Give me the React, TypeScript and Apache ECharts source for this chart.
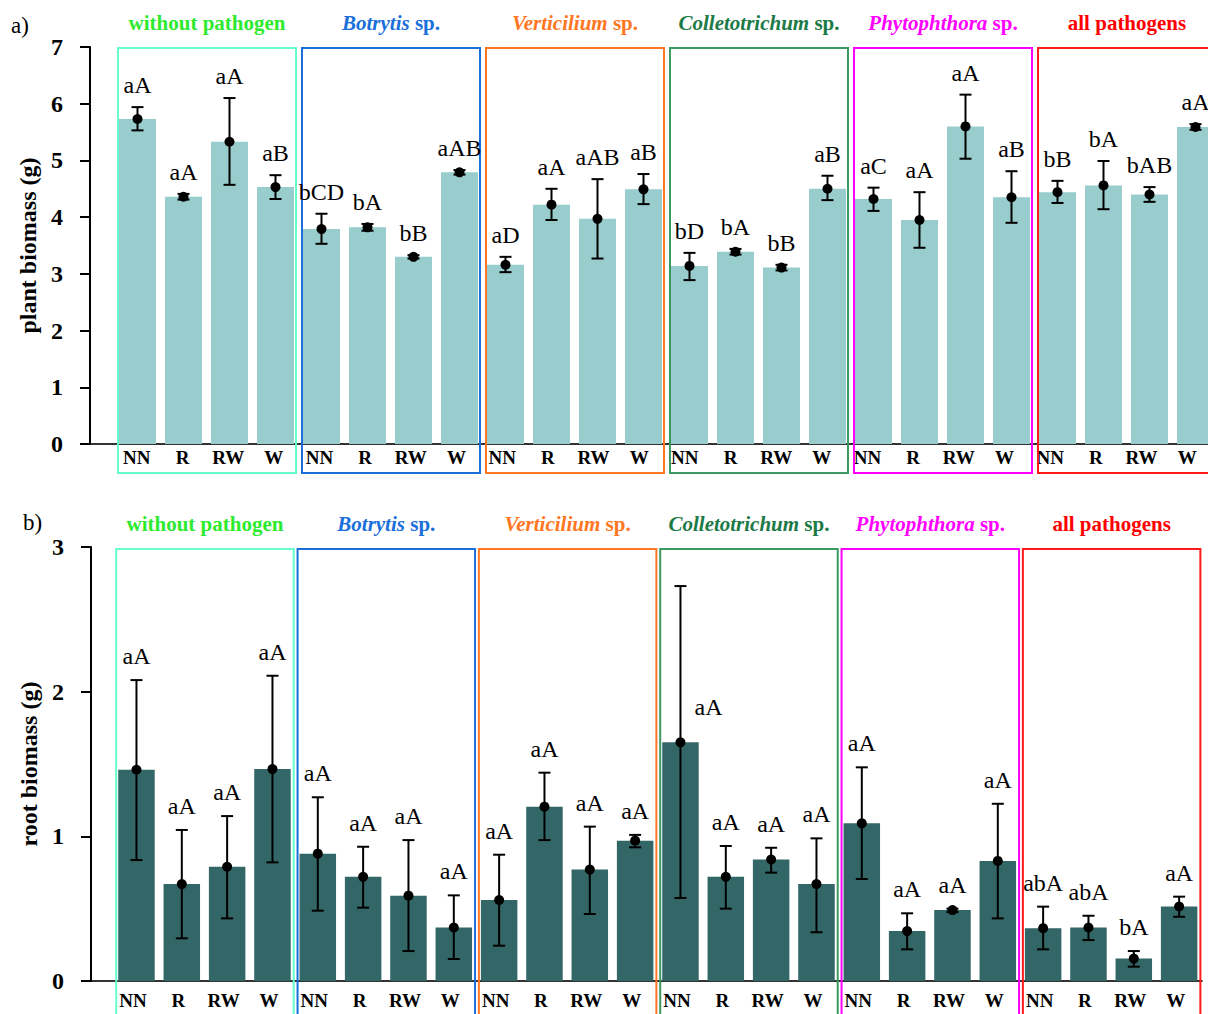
import React, { useEffect, useRef } from "react";
import * as echarts from "echarts";

// ---------- data ----------
const treatments = ["NN", "R", "RW", "W"];
const groupItalic = ["", "Botrytis", "Verticilium", "Colletotrichum", "Phytophthora", ""];
const groupRest = ["without pathogen", " sp.", " sp.", " sp.", " sp.", "all pathogens"];
const groupTitleColors = ["#2EEA2E", "#1A6FDB", "#FF7722", "#1B7A45", "#FF00FF", "#FF0000"];
const groupBoxColors = ["#66FFCC", "#1A6FDB", "#FF7722", "#3A9A62", "#FF00FF", "#FF1A1A"];

const plantMean = [5.73, 4.36, 5.33, 4.53, 3.79, 3.82, 3.3, 4.79, 3.16, 4.22, 3.97, 4.49, 3.14, 3.39, 3.11, 4.5, 4.32, 3.95, 5.6, 4.35, 4.44, 4.56, 4.4, 5.59];
const plantLow = [5.53, 4.31, 4.57, 4.32, 3.53, 3.76, 3.27, 4.75, 3.03, 3.95, 3.27, 4.23, 2.89, 3.34, 3.06, 4.3, 4.11, 3.46, 5.03, 3.9, 4.25, 4.14, 4.27, 5.54];
const plantHigh = [5.94, 4.41, 6.1, 4.74, 4.06, 3.88, 3.33, 4.83, 3.3, 4.5, 4.67, 4.76, 3.37, 3.44, 3.16, 4.73, 4.52, 4.44, 6.16, 4.81, 4.64, 4.99, 4.53, 5.64];
const plantLetters = ["aA", "aA", "aA", "aB", "bCD", "bA", "bB", "aAB", "aD", "aA", "aAB", "aB", "bD", "bA", "bB", "aB", "aC", "aA", "aA", "aB", "bB", "bA", "bAB", "aA"];

const rootMean = [1.46, 0.67, 0.79, 1.465, 0.88, 0.72, 0.59, 0.37, 0.56, 1.205, 0.77, 0.97, 1.65, 0.72, 0.84, 0.67, 1.09, 0.345, 0.49, 0.83, 0.365, 0.37, 0.155, 0.515];
const rootLow = [0.836, 0.295, 0.433, 0.82, 0.486, 0.507, 0.207, 0.152, 0.244, 0.974, 0.463, 0.924, 0.574, 0.5, 0.749, 0.337, 0.705, 0.219, 0.476, 0.433, 0.219, 0.283, 0.099, 0.444];
const rootHigh = [2.08, 1.044, 1.14, 2.11, 1.27, 0.928, 0.974, 0.592, 0.873, 1.44, 1.067, 1.01, 2.73, 0.933, 0.921, 0.986, 1.477, 0.468, 0.5, 1.225, 0.514, 0.451, 0.207, 0.583];
const rootLetters = ["aA", "aA", "aA", "aA", "aA", "aA", "aA", "aA", "aA", "aA", "aA", "aA", "aA", "aA", "aA", "aA", "aA", "aA", "aA", "aA", "abA", "abA", "bA", "aA"];

const plantTicks = [0, 7, 1];
const rootTicks = [0, 3, 1];

// ---------- helpers ----------
const FONT = "'Liberation Serif', 'Times New Roman', Times, serif";
const categories = groupRest.flatMap(() => treatments);

function errorSeries(xi: number, yi: number, mean: number[], low: number[], high: number[], letters: string[], gap: number, overrides: Record<number, { dx: number; at: number }>) {
  return {
    type: "custom",
    xAxisIndex: xi,
    yAxisIndex: yi,
    clip: false,
    z: 5,
    encode: { x: 0, y: 1 },
    data: mean.map((m, i) => [i, m, low[i], high[i]]),
    renderItem: (params: any, api: any) => {
      const i = api.value(0);
      const pM = api.coord([i, api.value(1)]);
      const pL = api.coord([i, api.value(2)]);
      const pH = api.coord([i, api.value(3)]);
      const x = pM[0];
      const cw = 6;
      const ls = { stroke: "#000", lineWidth: 2 };
      const ov = overrides[i];
      let lx = x;
      let ly = pH[1] - gap;
      if (ov) {
        lx = x + ov.dx;
        ly = api.coord([i, ov.at])[1] + 11;
      }
      return {
        type: "group",
        children: [
          { type: "line", shape: { x1: x, y1: pH[1], x2: x, y2: pL[1] }, style: ls },
          { type: "line", shape: { x1: x - cw, y1: pH[1], x2: x + cw, y2: pH[1] }, style: ls },
          { type: "line", shape: { x1: x - cw, y1: pL[1], x2: x + cw, y2: pL[1] }, style: ls },
          { type: "circle", shape: { cx: x, cy: pM[1], r: 5 }, style: { fill: "#000" } },
          {
            type: "text",
            x: lx,
            y: ly,
            style: {
              text: letters[i],
              fontFamily: FONT,
              fontSize: 24,
              fill: "#000",
              align: "center",
              verticalAlign: "bottom",
            },
          },
        ],
      };
    },
  };
}

function boxSeries(xi: number, yi: number, yMax: number, barW: number, padL: number, padR: number, topPad: number, bottomPad: number) {
  return {
    type: "custom",
    xAxisIndex: xi,
    yAxisIndex: yi,
    clip: false,
    z: 4,
    encode: { x: 0 },
    data: groupRest.map((_, g) => [g * 4, g * 4 + 3, g]),
    renderItem: (params: any, api: any) => {
      const a = api.coord([api.value(0), 0]);
      const b = api.coord([api.value(1), 0]);
      const g = api.value(2);
      const x1 = a[0] - barW / 2 - padL;
      const x2 = b[0] + barW / 2 + padR;
      const top = api.coord([api.value(0), yMax])[1] + topPad;
      const bottom = a[1] + bottomPad;
      const text = groupItalic[g] ? `{i|${groupItalic[g]}}{r|${groupRest[g]}}` : `{r|${groupRest[g]}}`;
      const col = groupTitleColors[g];
      return {
        type: "group",
        children: [
          {
            type: "rect",
            shape: { x: x1, y: top, width: x2 - x1, height: bottom - top },
            style: { fill: "none", stroke: groupBoxColors[g], lineWidth: 2 },
          },
          {
            type: "text",
            x: (x1 + x2) / 2,
            y: top - 25,
            style: {
              text,
              align: "center",
              verticalAlign: "middle",
              rich: {
                i: { fontFamily: FONT, fontSize: 21, fontWeight: "bold", fontStyle: "italic", fill: col },
                r: { fontFamily: FONT, fontSize: 21, fontWeight: "bold", fill: col },
              },
            },
          },
        ],
      };
    },
  };
}

const topGrid = { left: 114.5, top: 47, width: 1104, height: 397 };
const topLabelGrid = { left: 114, top: 47, width: 1096, height: 397 };
const botGrid = { left: 113.8, top: 547, width: 1088, height: 434 };
const botLabelGrid = { left: 110.3, top: 547, width: 1088, height: 434 };

function valueAxis(grid: number, ticks: number[], name: string, offset: number) {
  return {
    gridIndex: grid,
    type: "value",
    min: ticks[0],
    max: ticks[1],
    interval: ticks[2],
    offset,
    splitLine: { show: false },
    axisLine: { show: true, lineStyle: { color: "#000", width: 2 } },
    axisTick: { show: true, length: 10, lineStyle: { color: "#000", width: 2 } },
    axisLabel: { color: "#000", fontFamily: FONT, fontSize: 24, fontWeight: "bold", margin: 27 },
    name,
    nameLocation: "middle",
    nameRotate: 90,
    nameGap: 46,
    nameTextStyle: { color: "#000", fontFamily: FONT, fontSize: 24, fontWeight: "bold" },
  };
}

function barAxis(grid: number) {
  return {
    gridIndex: grid,
    type: "category",
    data: categories,
    axisLine: { show: true, lineStyle: { color: "#333", width: 2 } },
    axisTick: { show: false },
    axisLabel: { show: false },
  };
}

function labelAxis(grid: number, margin: number) {
  return {
    gridIndex: grid,
    type: "category",
    data: categories,
    axisLine: { show: false },
    axisTick: { show: false },
    axisLabel: { show: true, interval: 0, color: "#000", fontFamily: FONT, fontSize: 19, fontWeight: "bold", margin },
  };
}

export default function App() {
  const ref = useRef<HTMLDivElement>(null);
  useEffect(() => {
    document.body.style.margin = "0";
    if (!ref.current) return;
    const chart = echarts.init(ref.current, undefined, { renderer: "svg" });
    const topBase = topGrid.top + topGrid.height;
    const botBase = botGrid.top + botGrid.height;
    chart.setOption({
      animation: false,
      backgroundColor: "#fff",
      grid: [topGrid, topLabelGrid, botGrid, botLabelGrid],
      xAxis: [barAxis(0), labelAxis(1, 4), barAxis(2), labelAxis(3, 10)],
      yAxis: [
        valueAxis(0, plantTicks, "plant biomass (g)", topGrid.left - 90),
        { gridIndex: 1, type: "value", show: false, min: plantTicks[0], max: plantTicks[1] },
        valueAxis(2, rootTicks, "root biomass (g)", botGrid.left - 91),
        { gridIndex: 3, type: "value", show: false, min: rootTicks[0], max: rootTicks[1] },
      ],
      graphic: [
        { type: "line", shape: { x1: 81, y1: topBase, x2: topGrid.left, y2: topBase }, style: { stroke: "#333", lineWidth: 2 } },
        { type: "line", shape: { x1: 81, y1: botBase, x2: botGrid.left, y2: botBase }, style: { stroke: "#333", lineWidth: 2 } },
        { type: "text", left: 11, top: 14, style: { text: "a)", fontFamily: FONT, fontSize: 23, fill: "#000" } },
        { type: "text", left: 23, top: 511, style: { text: "b)", fontFamily: FONT, fontSize: 23, fill: "#000" } },
      ],
      series: [
        { type: "bar", xAxisIndex: 0, yAxisIndex: 0, data: plantMean, barWidth: 37, itemStyle: { color: "#99CCCC" }, z: 2 },
        boxSeries(0, 0, plantTicks[1], 37, 1, 2, 1, 29),
        errorSeries(0, 0, plantMean, plantLow, plantHigh, plantLetters, 10, {}),
        { type: "bar", xAxisIndex: 2, yAxisIndex: 2, data: rootMean, barWidth: 36.5, itemStyle: { color: "#336666" }, z: 2 },
        boxSeries(2, 2, rootTicks[1], 36.5, 2, 3, 2, 45),
        errorSeries(2, 2, rootMean, rootLow, rootHigh, rootLetters, 12, { 12: { dx: 28, at: 1.89 } }),
      ],
    });
    return () => chart.dispose();
  }, []);
  return (
    <div style={{ width: 1208, height: 1014, overflow: "hidden", position: "relative" }}>
      <div ref={ref} style={{ width: 1250, height: 1014 }} />
    </div>
  );
}
